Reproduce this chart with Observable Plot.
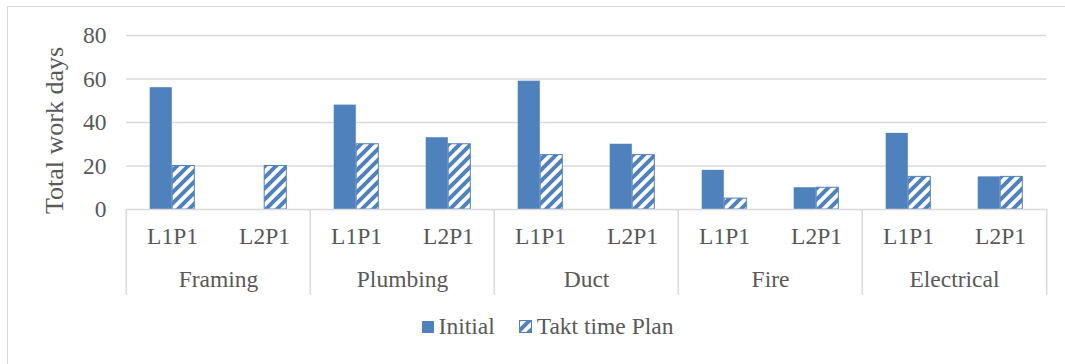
<!DOCTYPE html>
<html>
<head>
<meta charset="utf-8">
<script src="https://cdn.jsdelivr.net/npm/d3@7"></script>
<script src="https://cdn.jsdelivr.net/npm/@observablehq/plot@0.6"></script>
<style>
  html, body { margin: 0; padding: 0; background: #fff; overflow: hidden; width: 1065px; height: 364px; }
  #frame { position: absolute; left: 7px; top: 6px; width: 1070px; height: 400px; border: 1px solid #d9d9d9; box-sizing: border-box; }
  #chart { position: absolute; left: 0; top: 0; }
  #legend { position: absolute; left: 0; top: 313px; width: 1065px; display: flex; justify-content: center; align-items: center;
            font-family: "Liberation Serif", "Times New Roman", serif; font-size: 23.5px; color: #595959; padding-left: 30px; box-sizing: border-box; }
  .item { display: flex; align-items: center; margin: 0 12px; }
  .sw { width: 12px; height: 12px; margin-right: 5px; box-sizing: border-box; }
</style>
</head>
<body>
<div id="frame"></div>
<div id="chart"></div>
<div id="legend">
  <div class="item"><div class="sw" style="background:#4F81BD"></div>Initial</div>
  <div class="item"><svg class="sw" width="13" height="13" viewBox="0 0 13 13" style="width:13px;height:13px"><rect x="0.5" y="0.5" width="12" height="12" fill="url(#hatch)" stroke="#4F81BD"/></svg>Takt time Plan</div>
</div>
<script>
const groups = ["Framing", "Plumbing", "Duct", "Fire", "Electrical"];
const subs = ["L1P1", "L2P1"];
const series = ["Initial", "Takt time Plan"];
const initial = [56, 0, 48, 33, 59, 30, 18, 10, 35, 15];
const takt =    [20, 20, 30, 30, 25, 25, 5, 10, 15, 15];
const yTicks = [0, 20, 40, 60, 80];
const yTitle = "Total work days";

const rows = [];
groups.forEach((g, gi) => subs.forEach((s, si) => {
  const k = gi * 2 + si;
  rows.push({group: g, sub: s, series: series[0], value: initial[k]});
  rows.push({group: g, sub: s, series: series[1], value: takt[k]});
}));

const W = 1065, mL = 124, mR = 17;
const subStep = (W - mL - mR) / (groups.length * subs.length);
const barW = 22.5;
const outer = (subStep - 2 * barW) / 2;
const blue = "#4F81BD", grid = "#d9d9d9", text = "#595959";
const font = "'Liberation Serif', 'Times New Roman', serif";
const fs = 23.5;

const plot = Plot.plot({
  width: W, height: 299,
  marginLeft: mL, marginRight: mR, marginTop: 35, marginBottom: 90,
  style: {fontFamily: font, fontSize: fs + "px", color: text, background: "transparent"},
  fx: {domain: groups, padding: 0},
  x: {domain: subs, padding: 0},
  y: {domain: [0, 80], ticks: yTicks},
  marks: [
    Plot.gridY(yTicks.filter(d => d > 0), {stroke: grid, strokeOpacity: 1, strokeWidth: 1.5}),
    Plot.barY(rows.filter(d => d.series === series[0] && d.value > 0), {
      fx: "group", x: "sub", y: "value", fill: blue,
      insetLeft: outer, insetRight: outer + barW
    }),
    Plot.barY(rows.filter(d => d.series === series[1]), {
      fx: "group", x: "sub", y: "value", fill: "url(#hatch)", stroke: blue, strokeWidth: 1,
      insetLeft: outer + barW, insetRight: outer
    }),
    Plot.ruleY([0], {stroke: grid, strokeWidth: 1.5}),
    Plot.ruleX(groups, {fx: d => d, x: () => subs[0], dx: -subStep / 2, y1: 0, y2: -39.5, stroke: grid, strokeWidth: 1.5}),
    Plot.ruleX(groups.slice(-1), {fx: d => d, x: () => subs[1], dx: subStep / 2, y1: 0, y2: -39.5, stroke: grid, strokeWidth: 1.5}),
    Plot.axisY(yTicks, {tickSize: 0, tickPadding: 20, label: null, fill: text, fontSize: fs}),
    Plot.text([yTitle], {fx: () => groups[0], frameAnchor: "left", textAnchor: "middle", rotate: -90, dx: -72, dy: 8, fill: text, fontSize: 26, text: d => d}),
    Plot.axisX({tickSize: 0, tickPadding: 18, label: null, fill: text, fontSize: fs}),
    Plot.axisFx({anchor: "bottom", tickSize: 0, tickPadding: 61, label: null, fill: text, fontSize: fs})
  ]
});

const defs = d3.create("svg:defs");
const P = 11;
const pat = defs.append("pattern").attr("id", "hatch").attr("patternUnits", "userSpaceOnUse").attr("width", P).attr("height", P);
pat.append("rect").attr("width", P).attr("height", P).attr("fill", "#fff");
pat.append("path").attr("d", `M-3,3 L3,-3 M0,${P} L${P},0 M${P-3},${P+3} L${P+3},${P-3}`).attr("stroke", blue).attr("stroke-width", 4);
plot.insertBefore(defs.node(), plot.firstChild);
document.getElementById("chart").appendChild(plot);
</script>
</body>
</html>
